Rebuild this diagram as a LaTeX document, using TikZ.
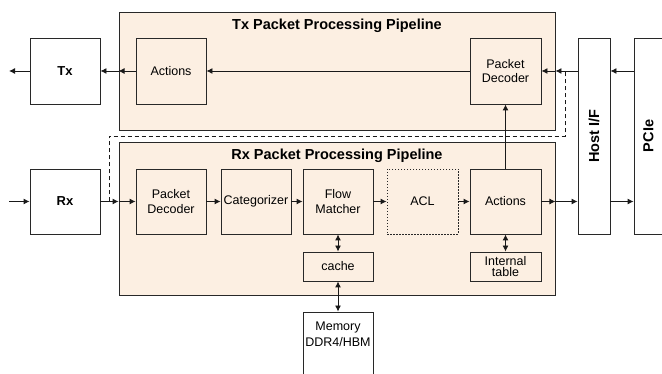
\documentclass[tikz,border=0pt]{standalone}
\usepackage{fontspec}
\setmainfont{Liberation Sans}
\usetikzlibrary{positioning}
\usetikzlibrary{calc}
\usetikzlibrary{arrows.meta}

\definecolor{pipefill}{RGB}{252,239,226}
\definecolor{linegray}{RGB}{40,40,40}

\begin{document}
\begin{tikzpicture}[x=1pt,y=-1pt,
  font=\fontsize{12.5}{14.5}\selectfont,
  every node/.style={inner sep=0pt},
  pipe/.style={draw=linegray,fill=pipefill,line width=0.9pt,minimum width=436pt},
  blk/.style={draw=linegray,line width=0.9pt,minimum width=70pt,minimum height=65pt,align=center},
  title/.style={font=\bfseries\fontsize{14.5}{17}\selectfont},
  arr/.style={draw=black!90,line width=0.9pt,-{Latex[length=6pt,width=6pt]}},
  darr/.style={draw=black!90,line width=0.9pt,{Latex[length=6pt,width=6pt]}-{Latex[length=6pt,width=6pt]}}]
\useasboundingbox (0,0) rectangle (662,374);

\node[pipe,minimum height=118pt](txpipe) at (337,71){};
\node[pipe,minimum height=153pt](rxpipe) at (337,218.5){};
\node[title](txtitle) at (337,26){Tx Packet Processing Pipeline};
\node[title](rxtitle) at (337,156){Rx Packet Processing Pipeline};

\node[blk,minimum height=66pt,font=\bfseries\fontsize{13}{15}\selectfont](tx) at (65,71){Tx};
\node[blk,minimum height=66pt](txact) at (171,71){Actions};
\node[blk,minimum height=66pt,minimum width=71pt](txdec) at (505.5,71){Packet\\Decoder};

\node[blk,font=\bfseries\fontsize{13}{15}\selectfont](rx) at (65,201.5){Rx};
\node[blk](rxdec) at (171,201.5){Packet\\Decoder};
\node[blk](cat) at (256,201.5){Categorizer};
\node[blk](flow) at (338,201.5){Flow\\Matcher};
\node[blk,minimum width=71pt,dash pattern=on 1.5pt off 1.5pt](acl) at (422.5,201.5){ACL};
\node[blk,minimum width=71pt](rxact) at (505.5,201.5){Actions};
\node[blk,minimum height=29pt](cache) at (338,266.5){cache};
\node[blk,minimum height=29pt,minimum width=71pt,font=\fontsize{12.5}{11}\selectfont](itable) at (505.5,266.5){Internal\\table};
\node[blk,minimum height=64pt,font=\fontsize{12.5}{16}\selectfont](mem) at (338,344){Memory\\DDR4/HBM\\[4pt]};

\node[blk,minimum width=32pt,minimum height=196pt](hostif) at (594,136){\rotatebox{90}{\bfseries\fontsize{14.5}{17}\selectfont Host I/F}};
\node[blk,minimum width=29pt,minimum height=196pt](pcie) at (648.5,136){\rotatebox{90}{\bfseries\fontsize{14.5}{17}\selectfont PCIe}};

\coordinate (txout) at (9,71);
\coordinate (rxin) at (9,201.5);
\coordinate (rxsplit) at (109,201.5);
\coordinate (txmerge) at (565,71);

\draw[draw=black!90,line width=0.9pt,dash pattern=on 4pt off 3pt] (rxsplit) -- (109,136) -- (565,136) -- (txmerge);

\path
(rxin) edge[arr] (rx)
(rx) edge[arr] (rxpipe.west |- rx)
(rxpipe.west |- rx) edge[arr] (rxdec)
(rxdec) edge[arr] (cat)
(cat) edge[arr] (flow)
(flow) edge[arr] (acl)
(acl) edge[arr] (rxact)
(rxact) edge[arr] (rxpipe.east |- rxact)
(rxpipe.east |- rxact) edge[arr] (hostif.west |- rxact)
(hostif.east |- rxact) edge[arr] (pcie.west |- rxact)
(pcie.west |- txdec) edge[arr] (hostif.east |- txdec)
(hostif.west |- txdec) edge[arr] (txpipe.east |- txdec)
(txpipe.east |- txdec) edge[arr] (txdec)
(txdec) edge[arr] (txact)
(txact) edge[arr] (txpipe.west |- txact)
(txpipe.west |- txact) edge[arr] (tx)
(tx) edge[arr] (txout)
(rxact) edge[arr] (txdec)
(flow) edge[darr] (cache)
(cache) edge[darr] (mem)
(rxact) edge[darr] (itable);
\end{tikzpicture}
\end{document}
